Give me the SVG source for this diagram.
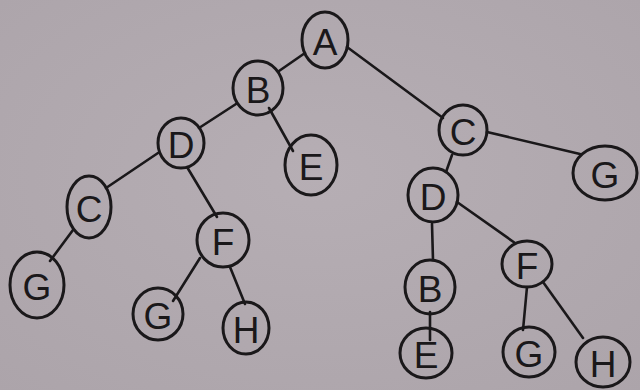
<svg xmlns="http://www.w3.org/2000/svg" width="640" height="390" viewBox="0 0 640 390">
  <defs>
    <radialGradient id="paper" cx="0.5" cy="0.45" r="0.75">
      <stop offset="0" stop-color="#b6aeb4"/>
      <stop offset="1" stop-color="#aca4aa"/>
    </radialGradient>
  </defs>
  <style>
    .ink { fill: none; stroke: #1a181a; stroke-width: 2.6; stroke-linecap: round; stroke-linejoin: round; }
    .node ellipse { fill: none; stroke: #1a181a; stroke-width: 3; }
    .node text { font-family: "Liberation Sans", "DejaVu Sans", sans-serif; font-size: 37px; fill: #1a181a; text-anchor: middle; dominant-baseline: central; }
  </style>

  <!-- paper -->
  <rect width="640" height="390" fill="url(#paper)"/>

  <!-- edges -->
  <g id="connectors" class="ink">
    <!-- left tree -->
    <line x1="305" y1="53" x2="279" y2="71"/>
    <line x1="236" y1="104" x2="199" y2="128"/>
    <line x1="269" y1="108" x2="293" y2="151"/>
    <line x1="158" y1="153" x2="106" y2="188"/>
    <line x1="187" y1="167" x2="217" y2="217"/>
    <line x1="73" y1="230" x2="50" y2="261"/>
    <line x1="200" y1="258" x2="173" y2="301"/>
    <line x1="230" y1="267" x2="245" y2="304"/>
    <!-- root to right tree -->
    <line x1="347" y1="47" x2="443" y2="118"/>
    <!-- right tree -->
    <line x1="487" y1="132" x2="580" y2="154"/>
    <line x1="452" y1="155" x2="446" y2="172"/>
    <line x1="457" y1="202" x2="515" y2="243"/>
    <line x1="432" y1="224" x2="433" y2="260"/>
    <line x1="430" y1="312" x2="430" y2="340"/>
    <line x1="527" y1="287" x2="523" y2="330"/>
    <line x1="543" y1="282" x2="583" y2="338"/>
  </g>

  <!-- left tree nodes -->
  <g id="node-a" class="node"><ellipse cx="325" cy="40" rx="23" ry="28"/><text x="325" y="42">A</text></g>
  <g id="node-b" class="node"><ellipse cx="258" cy="88" rx="25" ry="27"/><text x="258" y="90">B</text></g>
  <g id="node-e" class="node"><ellipse cx="311" cy="165" rx="26" ry="30"/><text x="311" y="167">E</text></g>
  <g id="node-d" class="node"><ellipse cx="181" cy="143" rx="23" ry="25"/><text x="181" y="145">D</text></g>
  <g id="node-c" class="node"><ellipse cx="89" cy="207" rx="22" ry="31"/><text x="89" y="209">C</text></g>
  <g id="node-g1" class="node"><ellipse cx="37" cy="285" rx="27" ry="33"/><text x="37" y="287">G</text></g>
  <g id="node-f" class="node"><ellipse cx="223" cy="240" rx="26" ry="27"/><text x="223" y="242">F</text></g>
  <g id="node-g2" class="node"><ellipse cx="158" cy="314" rx="25" ry="26"/><text x="158" y="316">G</text></g>
  <g id="node-h" class="node"><ellipse cx="246" cy="328" rx="23" ry="26"/><text x="246" y="330">H</text></g>

  <!-- right tree nodes -->
  <g id="node-c2" class="node"><ellipse cx="463" cy="130" rx="24" ry="25"/><text x="463" y="132">C</text></g>
  <g id="node-g3" class="node"><ellipse cx="605" cy="173" rx="32" ry="27"/><text x="605" y="175">G</text></g>
  <g id="node-d2" class="node"><ellipse cx="433" cy="195" rx="25" ry="27"/><text x="433" y="197">D</text></g>
  <g id="node-f2" class="node"><ellipse cx="527" cy="264" rx="25" ry="23"/><text x="527" y="266">F</text></g>
  <g id="node-b2" class="node"><ellipse cx="430" cy="287" rx="25" ry="27"/><text x="430" y="289">B</text></g>
  <g id="node-e2" class="node"><ellipse cx="426" cy="353" rx="26" ry="25"/><text x="426" y="355">E</text></g>
  <g id="node-g4" class="node"><ellipse cx="529" cy="352" rx="26" ry="25"/><text x="529" y="354">G</text></g>
  <g id="node-h2" class="node"><ellipse cx="603" cy="362" rx="27" ry="25"/><text x="603" y="364">H</text></g>
</svg>
